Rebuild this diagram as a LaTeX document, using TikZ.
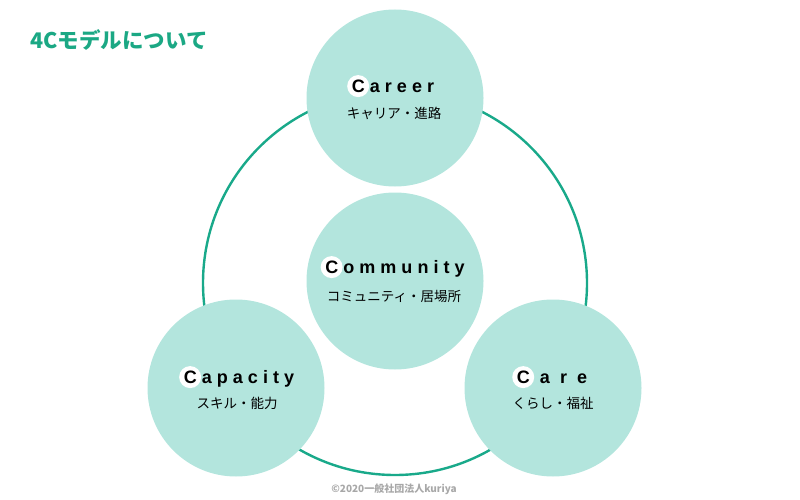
\documentclass[tikz,border=0pt]{standalone}
\usepackage{fontspec}
\setmainfont{Liberation Sans}
\newfontfamily\jp{Noto Sans CJK JP}
\newfontfamily\enfont{Liberation Sans}[LetterSpace=28]
\usetikzlibrary{backgrounds}
\definecolor{ring}{HTML}{19A98A}
\definecolor{bubblefill}{HTML}{B3E5DD}
\definecolor{titlecol}{HTML}{1BA884}
\definecolor{copycol}{HTML}{A8A8A8}
\begin{document}
\begin{tikzpicture}[x=1pt,y=-1pt,
  bubble/.style={circle,fill=bubblefill,minimum size=177pt,inner sep=0pt},
  ringstyle/.style={circle,draw=ring,line width=2.4pt,minimum size=384pt,inner sep=0pt},
  enword/.style={font=\enfont\bfseries\fontsize{18}{20}\selectfont,inner sep=0pt,anchor=base},
  jpword/.style={font=\jp\fontsize{13.5}{15}\selectfont,inner sep=0pt},
  capdot/.style={fill=white}]
\useasboundingbox (0,0) rectangle (800,500);
\begin{pgfonlayer}{background}
  \node[ringstyle] (ring) at (395,283) {};
  \node[bubble] (career) at (395,98) {};
  \node[bubble] (community) at (395,281) {};
  \node[bubble] (capacity) at (236,388) {};
  \node[bubble] (care) at (553,388) {};
\end{pgfonlayer}
% titles
\node[font=\jp\bfseries\fontsize{21.5}{24}\selectfont,text=titlecol,inner sep=0pt,anchor=west] (title) at (30,40) {4Cモデルについて};
\node[font=\jp\bfseries\fontsize{10}{12}\selectfont,text=copycol,inner sep=0pt] (copy) at (394,489) {©2020一般社団法人kuriya};
% words
\node[enword] (wcareer) at (393,92.5) {Career};
\node[jpword] (jcareer) at (394,113) {キャリア・進路};
\node[enword] (wcommunity) at (395,273.5) {Community};
\node[jpword] (jcommunity) at (394,296) {コミュニティ・居場所};
\node[enword] (wcapacity) at (239,383.5) {Capacity};
\node[jpword] (jcapacity) at (237,403) {スキル・能力};
\node[enword] (wcare) at (552,383.5) {C a r e};
\node[jpword] (jcare) at (553,403) {くらし・福祉};
\begin{pgfonlayer}{background}
  \foreach \w in {wcareer,wcommunity,wcapacity,wcare}
    \fill[capdot] ([shift={(6.5,-6.4)}]\w.base west) circle[radius=11];
\end{pgfonlayer}
\end{tikzpicture}
\end{document}
